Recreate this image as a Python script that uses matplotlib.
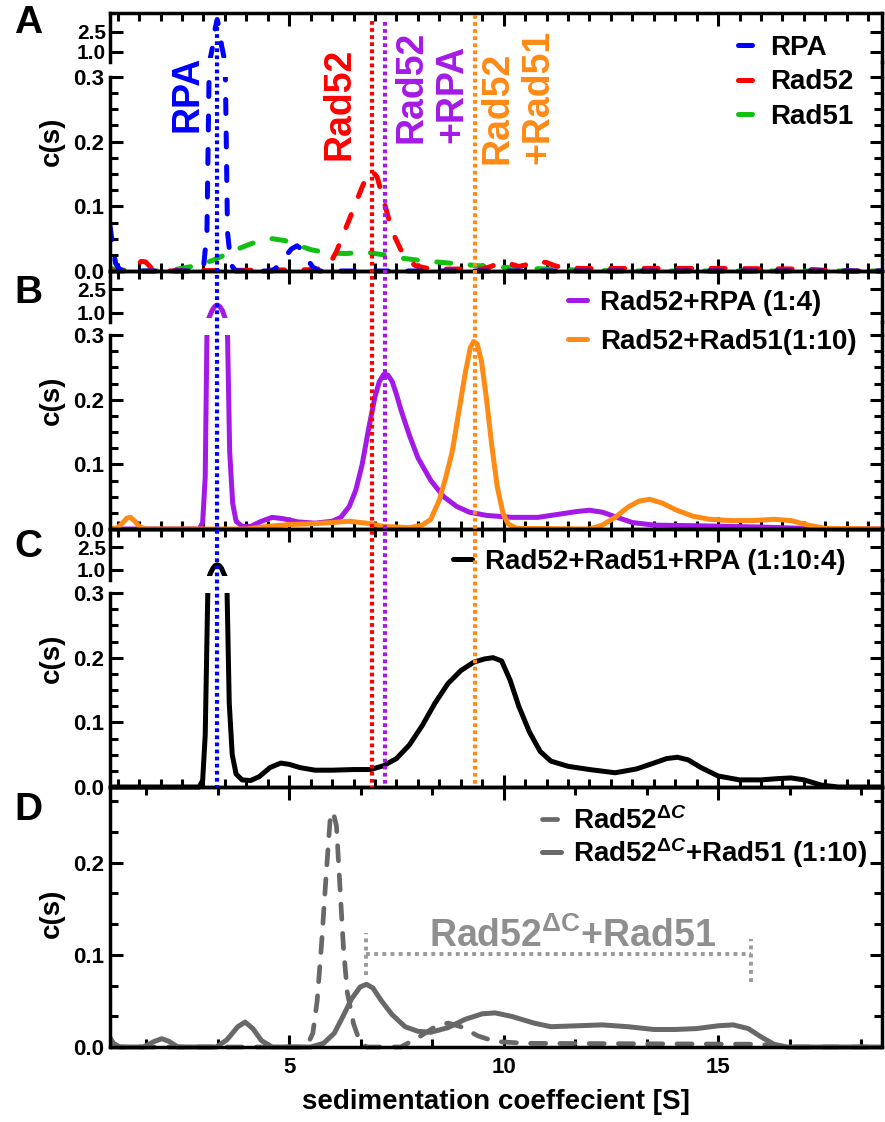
import numpy as np
import matplotlib
matplotlib.use('Agg')
import matplotlib.pyplot as plt
from matplotlib.ticker import MultipleLocator, FixedLocator, FormatStrFormatter
from matplotlib.lines import Line2D
from matplotlib.patches import Rectangle
from matplotlib import transforms

plt.rcParams['font.family'] = 'Liberation Sans'
plt.rcParams['font.weight'] = 'bold'
plt.rcParams['axes.labelweight'] = 'bold'
plt.rcParams['mathtext.fontset'] = 'custom'
plt.rcParams['mathtext.rm'] = 'Liberation Sans:bold'
plt.rcParams['mathtext.it'] = 'Liberation Sans:italic:bold'
plt.rcParams['mathtext.bf'] = 'Liberation Sans:bold'

# ---- c(s) distributions ----
# A: single proteins
s_rpa = [0.82, 0.88, 0.95, 1.05, 1.2, 2.8, 3.0, 3.08, 3.15, 3.22, 3.27, 3.32, 3.37, 3.42, 3.49,
         3.56, 3.64, 3.75, 4.6, 4.75, 4.9, 5.05, 5.18, 5.3, 5.42, 5.55, 5.7, 19.0]
c_rpa = [0.07, 0.04, 0.012, 0.002, 0.0, 0.0, 0.005, 0.06, 0.4, 1.5, 2.7, 3.4, 2.7, 1.5, 0.4,
         0.06, 0.01, 0.0, 0.0, 0.008, 0.022, 0.034, 0.039, 0.033, 0.018, 0.006, 0.0, 0.0]

s_rad52 = [0.82, 1.3, 1.42, 1.55, 1.65, 1.78, 1.95, 5.5, 5.8, 5.95, 6.1, 6.25, 6.4, 6.55, 6.7,
           6.82, 6.93, 7.05, 7.19, 7.3, 7.43, 7.6, 7.75, 7.95, 8.3, 9.5, 9.7, 9.85, 10.0, 10.15,
           10.35, 10.55, 10.78, 11.0, 11.2, 11.4, 11.8, 13.0, 15.0, 17.0, 17.8, 19.0]
c_rad52 = [0.0, 0.0, 0.007, 0.015, 0.014, 0.005, 0.0, 0.002, 0.004, 0.012, 0.03, 0.055, 0.08,
           0.105, 0.13, 0.148, 0.155, 0.145, 0.112, 0.085, 0.057, 0.033, 0.017, 0.008, 0.003,
           0.003, 0.007, 0.011, 0.013, 0.011, 0.007, 0.01, 0.015, 0.013, 0.008, 0.005, 0.004,
           0.004, 0.004, 0.003, 0.0, 0.0]

s_rad51 = [0.82, 1.0, 1.5, 2.0, 2.4, 2.8, 3.2, 3.5, 3.8, 4.1, 4.4, 4.6, 4.9, 5.2, 5.5, 5.9, 6.3,
           6.8, 7.2, 7.6, 8.1, 8.6, 9.1, 9.6, 10.2, 11.0, 12.0, 13.0, 19.0]
c_rad51 = [0.004, 0.002, 0.0, 0.0, 0.003, 0.008, 0.016, 0.025, 0.034, 0.042, 0.048, 0.05, 0.047,
           0.04, 0.033, 0.028, 0.027, 0.029, 0.025, 0.02, 0.016, 0.013, 0.01, 0.007, 0.005,
           0.003, 0.001, 0.0, 0.0]

# B: binary mixtures
s_r52rpa = [0.82, 2.9, 2.98, 3.04, 3.08, 3.13, 3.2, 3.26, 3.32, 3.38, 3.44, 3.51, 3.56, 3.61,
            3.68, 3.76, 3.9, 4.1, 4.35, 4.6, 4.85, 5.2, 5.6, 6.0, 6.2, 6.4, 6.55, 6.7, 6.85,
            7.0, 7.1, 7.2, 7.3, 7.4, 7.5, 7.6, 7.8, 8.0, 8.3, 8.6, 8.9, 9.2, 9.6, 10.2, 10.8,
            11.4, 11.7, 12.0, 12.3, 12.6, 13.0, 13.5, 14.5, 16.0, 17.0, 18.0, 19.0]
c_r52rpa = [0.0, 0.0, 0.01, 0.08, 0.3, 0.7, 1.15, 1.4, 1.5, 1.4, 1.15, 0.6, 0.3, 0.12, 0.04,
            0.012, 0.004, 0.004, 0.012, 0.018, 0.016, 0.011, 0.009, 0.012, 0.018, 0.035, 0.06,
            0.1, 0.155, 0.205, 0.228, 0.239, 0.238, 0.228, 0.208, 0.185, 0.145, 0.11, 0.075,
            0.05, 0.035, 0.026, 0.021, 0.018, 0.018, 0.024, 0.027, 0.029, 0.026, 0.019, 0.01,
            0.006, 0.005, 0.003, 0.001, 0.0, 0.0]

s_r52r51 = [0.82, 1.0, 1.12, 1.22, 1.3, 1.4, 1.5, 1.65, 4.0, 4.5, 5.0, 5.5, 6.0, 6.4, 6.8, 7.2,
            7.8, 8.1, 8.3, 8.5, 8.65, 8.8, 8.95, 9.1, 9.22, 9.3, 9.38, 9.48, 9.6, 9.72, 9.85,
            9.98, 10.1, 10.3, 12.0, 12.3, 12.6, 12.9, 13.15, 13.4, 13.7, 14.0, 14.4, 14.8, 15.3,
            15.8, 16.3, 16.7, 17.1, 17.5, 19.0]
c_r52r51 = [0.0, 0.002, 0.01, 0.017, 0.018, 0.012, 0.004, 0.0, 0.0, 0.004, 0.007, 0.008, 0.01,
            0.012, 0.009, 0.004, 0.002, 0.006, 0.015, 0.045, 0.08, 0.12, 0.18, 0.24, 0.28, 0.29,
            0.286, 0.26, 0.2, 0.13, 0.065, 0.025, 0.008, 0.001, 0.0, 0.006, 0.018, 0.034, 0.043,
            0.046, 0.04, 0.03, 0.02, 0.015, 0.013, 0.013, 0.015, 0.013, 0.006, 0.001, 0.0]

# C: ternary mixture
s_mix = [0.82, 2.9, 2.98, 3.04, 3.1, 3.16, 3.22, 3.27, 3.32, 3.37, 3.42, 3.48, 3.55, 3.6, 3.67,
         3.76, 3.9, 4.1, 4.3, 4.55, 4.8, 5.0, 5.25, 5.6, 6.0, 6.5, 6.9, 7.2, 7.5, 7.8, 8.1, 8.4,
         8.7, 9.0, 9.3, 9.55, 9.75, 9.95, 10.15, 10.35, 10.6, 10.85, 11.1, 11.5, 12.0, 12.6,
         13.1, 13.5, 13.8, 14.05, 14.3, 14.6, 15.0, 15.5, 16.0, 16.4, 16.7, 17.0, 17.4, 17.8, 19.0]
c_mix = [0.0, 0.0, 0.01, 0.08, 0.3, 0.75, 1.1, 1.28, 1.33, 1.28, 1.1, 0.7, 0.3, 0.13, 0.05,
         0.02, 0.011, 0.01, 0.016, 0.03, 0.037, 0.035, 0.03, 0.026, 0.026, 0.027, 0.027, 0.033,
         0.044, 0.065, 0.095, 0.13, 0.16, 0.18, 0.193, 0.198, 0.2, 0.195, 0.165, 0.125, 0.085,
         0.055, 0.04, 0.032, 0.027, 0.022, 0.028, 0.037, 0.044, 0.046, 0.042, 0.03, 0.017,
         0.011, 0.011, 0.013, 0.014, 0.011, 0.003, 0.0, 0.0]

# D: C-terminal truncation
s_dc = [0.82, 5.4, 5.55, 5.65, 5.75, 5.85, 5.95, 6.02, 6.1, 6.18, 6.26, 6.35, 6.5, 6.65, 6.8,
        7.6, 8.0, 8.4, 8.7, 9.0, 9.4, 9.8, 10.5, 16.0, 16.5, 19.0]
c_dc = [0.0, 0.0, 0.015, 0.05, 0.11, 0.18, 0.245, 0.255, 0.24, 0.175, 0.11, 0.06, 0.025, 0.005,
        0.0, 0.0, 0.01, 0.022, 0.026, 0.022, 0.012, 0.006, 0.004, 0.003, 0.0, 0.0]

s_dcr51 = [0.82, 0.9, 1.05, 1.6, 1.85, 2.03, 2.2, 2.4, 3.3, 3.55, 3.8, 3.97, 4.15, 4.35, 4.6,
           5.5, 5.8, 6.05, 6.25, 6.45, 6.65, 6.8, 6.95, 7.15, 7.4, 7.7, 8.0, 8.3, 8.7, 9.1, 9.5,
           9.8, 10.2, 10.7, 11.1, 11.7, 12.3, 12.9, 13.5, 14.0, 14.5, 15.0, 15.35, 15.7, 16.0,
           16.3, 16.6, 19.0]
c_dcr51 = [0.01, 0.004, 0.0, 0.0, 0.006, 0.009, 0.006, 0.0, 0.0, 0.008, 0.022, 0.027, 0.02,
           0.007, 0.0, 0.0, 0.004, 0.015, 0.033, 0.052, 0.065, 0.068, 0.064, 0.05, 0.035, 0.022,
           0.017, 0.016, 0.021, 0.03, 0.036, 0.037, 0.033, 0.026, 0.022, 0.023, 0.024, 0.022,
           0.019, 0.019, 0.02, 0.023, 0.024, 0.02, 0.011, 0.003, 0.0, 0.0]

# peak positions of the single species / complexes (S)
peak_names = ['RPA', 'Rad52', 'Rad52+RPA', 'Rad52+Rad51']
peak_pos = [3.32, 6.93, 7.24, 9.34]

# Rad52dC+Rad51 complex range in D
span_s = [6.79, 15.77]
span_c = 0.101
span_left_c = [0.078, 0.124]
span_right_c = [0.071, 0.117]

BLUE, RED, GREEN = '#0000ff', '#ff0000', '#12c012'
PURPLE, ORANGE, GREY = '#a31ae6', '#ff8a14', '#686868'

W, H = 885, 1122
XL, XR = 110, 882
x_lim = (0.82, 18.82)

fig = plt.figure(figsize=(W / 100, H / 100), dpi=100)


def box(top, bottom):
    return [XL / W, 1 - bottom / H, (XR - XL) / W, (bottom - top) / H]


def common(ax, minor_x=0.5):
    ax.set_facecolor('none')
    ax.set_xlim(*x_lim)
    ax.xaxis.set_major_locator(MultipleLocator(5))
    ax.xaxis.set_minor_locator(MultipleLocator(minor_x))
    ax.tick_params(which='both', direction='in', width=2.2, labelsize=16, pad=4,
                   left=True, right=True)
    ax.tick_params(which='major', length=9)
    ax.tick_params(which='minor', length=5.5)
    for sp in ax.spines.values():
        sp.set_linewidth(2.5)
    ax.yaxis.set_major_formatter(FormatStrFormatter('%.1f'))


def upper(top, bottom, ylim):
    ax = fig.add_axes(box(top, bottom))
    common(ax)
    ax.spines['bottom'].set_visible(False)
    ax.tick_params(axis='x', which='both', bottom=False, top=True, labelbottom=False)
    ax.tick_params(axis='y', labelsize=15, pad=3)
    ax.set_ylim(*ylim)
    ax.yaxis.set_major_locator(FixedLocator([1.0, 2.5]))
    ax.yaxis.set_minor_locator(FixedLocator([]))
    return ax


def lower(top, bottom):
    ax = fig.add_axes(box(top, bottom))
    common(ax)
    ax.spines['top'].set_visible(False)
    ax.tick_params(axis='x', which='both', top=False, bottom=True, labelbottom=False)
    ax.set_ylim(0, 0.3)
    ax.yaxis.set_major_locator(MultipleLocator(0.1))
    ax.yaxis.set_minor_locator(MultipleLocator(0.025))
    return ax


def curve(ax, s, c, low=True, **kw):
    ln, = ax.plot(s, c, **kw)
    if low:
        # let the baseline sit on top of the bottom spine
        ln.set_clip_path(Rectangle((0, -0.03), 1, 1.03, transform=ax.transAxes))
    else:
        # keep slivers of the low part out of the broken segment
        ln.set_clip_path(Rectangle((0, 0.08), 1, 0.92, transform=ax.transAxes))
    return ln


def join_right(top, bottom):
    fig.add_artist(Line2D([XR / W, XR / W], [1 - bottom / H, 1 - top / H],
                          transform=fig.transFigure, color='k', lw=2.5))


dash = dict(linestyle=(0, (2.8, 3.9)), dash_capstyle='round', lw=3.6)
solid = dict(lw=3.6, solid_capstyle='round', solid_joinstyle='round')
leg = dict(loc='upper left', bbox_transform=fig.transFigure, frameon=False, fontsize=20,
           borderpad=0, borderaxespad=0)

# ---- panel A ----
axAu = upper(13, 62, (0.25, 3.88))
axA = lower(77, 271)
join_right(62, 77)
for ax, low in ((axAu, False), (axA, True)):
    l51 = curve(ax, s_rad51, c_rad51, low, color=GREEN, label='Rad51', **dash)
    l52 = curve(ax, s_rad52, c_rad52, low, color=RED, label='Rad52', **dash)
    lrp = curve(ax, s_rpa, c_rpa, low, color=BLUE, label='RPA', **dash)
axA.legend([lrp, l52, l51], ['RPA', 'Rad52', 'Rad51'], bbox_to_anchor=(738 / W, 1 - 35 / H),
           handlelength=0.6, handletextpad=0.55, labelspacing=0.3, **leg)

# ---- panel B ----
axBu = upper(271, 322, (0.41, 3.68))
axB = lower(335, 529)
join_right(322, 335)
for ax, low in ((axBu, False), (axB, True)):
    lp = curve(ax, s_r52rpa, c_r52rpa, low, color=PURPLE, **solid)
    lo = curve(ax, s_r52r51, c_r52r51, low, color=ORANGE, **solid)
axB.legend([lp, lo], ['Rad52+RPA (1:4)', 'Rad52+Rad51(1:10)'],
           bbox_to_anchor=(568 / W, 1 - 290 / H),
           handlelength=0.7, handletextpad=0.45, labelspacing=0.45, **leg)

# ---- panel C ----
axCu = upper(529, 580, (0.32, 3.72))
axC = lower(593, 787)
join_right(580, 593)
for ax, low in ((axCu, False), (axC, True)):
    lm = curve(ax, s_mix, c_mix, low, color='black', **solid)
axC.legend([lm], ['Rad52+Rad51+RPA (1:10:4)'], bbox_to_anchor=(453 / W, 1 - 549 / H),
           handlelength=0.7, handletextpad=0.45, **leg)

# ---- panel D ----
axD = fig.add_axes(box(787, 1047))
common(axD, minor_x=5 / 3)
axD.tick_params(axis='x', which='both', top=True, bottom=True, labelbottom=True)
axD.tick_params(axis='x', which='major', pad=7)
axD.set_ylim(0, 0.282)
axD.yaxis.set_major_locator(MultipleLocator(0.1))
axD.yaxis.set_minor_locator(MultipleLocator(1 / 30))
ld = curve(axD, s_dc, c_dc, color=GREY, linestyle=(0, (3.2, 3.0)),
           dash_capstyle='round', lw=3.4)
lds = curve(axD, s_dcr51, c_dcr51, color=GREY, **solid)
axD.legend([ld, lds], [r'Rad52$^{\Delta C}$', r'Rad52$^{\Delta C}$+Rad51 (1:10)'],
           bbox_to_anchor=(542 / W, 1 - 807 / H),
           handlelength=0.7, handletextpad=0.4, labelspacing=0.05, **leg)
axD.set_xlabel('sedimentation coeffecient [S]', fontsize=20, labelpad=8)

bracket = dict(color='#9a9a9a', lw=2.8, linestyle=(0, (1.0, 1.1)))
axD.plot(span_s, [span_c, span_c], **bracket)
axD.plot([span_s[0], span_s[0]], span_left_c, **bracket)
axD.plot([span_s[1], span_s[1]], span_right_c, **bracket)
axD.text(11.6, 0.109, r'Rad52$^{\mathrm{\Delta C}}$+Rad51', ha='center', va='baseline',
         fontsize=27, color='#8f8f8f')

# ---- peak markers running through A-C ----
vtrans = transforms.blended_transform_factory(axD.transData, fig.transFigure)
marker_tops = [20, 21, 22, 15]
for pos, top, col in zip(peak_pos, marker_tops, [BLUE, RED, PURPLE, ORANGE]):
    fig.add_artist(Line2D([pos, pos], [1 - top / H, 1 - 787 / H], transform=vtrans,
                          color=col, lw=3.0, linestyle=(0, (0.9, 0.8))))

# rotated names of the peaks in A
name_x = [188, 340, 432, 518]
name_bottom = [132, 160, 143, 164]
name_text = ['RPA', 'Rad52', 'Rad52\n+RPA', 'Rad52\n+Rad51']
for nx, nb, txt, col in zip(name_x, name_bottom, name_text, [BLUE, RED, PURPLE, ORANGE]):
    fig.text(nx / W, 1 - nb / H, txt, rotation=90, ha='center', va='bottom',
             multialignment='left', fontsize=27, color=col, linespacing=1.15)

# y labels and panel letters
for yc in (141, 400, 658, 913):
    fig.text(52 / W, 1 - yc / H, 'c(s)', rotation=90, ha='center', va='center', fontsize=20)
for letter, yc in zip('ABCD', (23, 293, 547, 810)):
    fig.text(28 / W, 1 - yc / H, letter, ha='center', va='center', fontsize=28)

fig.savefig('out.png', dpi=100)
